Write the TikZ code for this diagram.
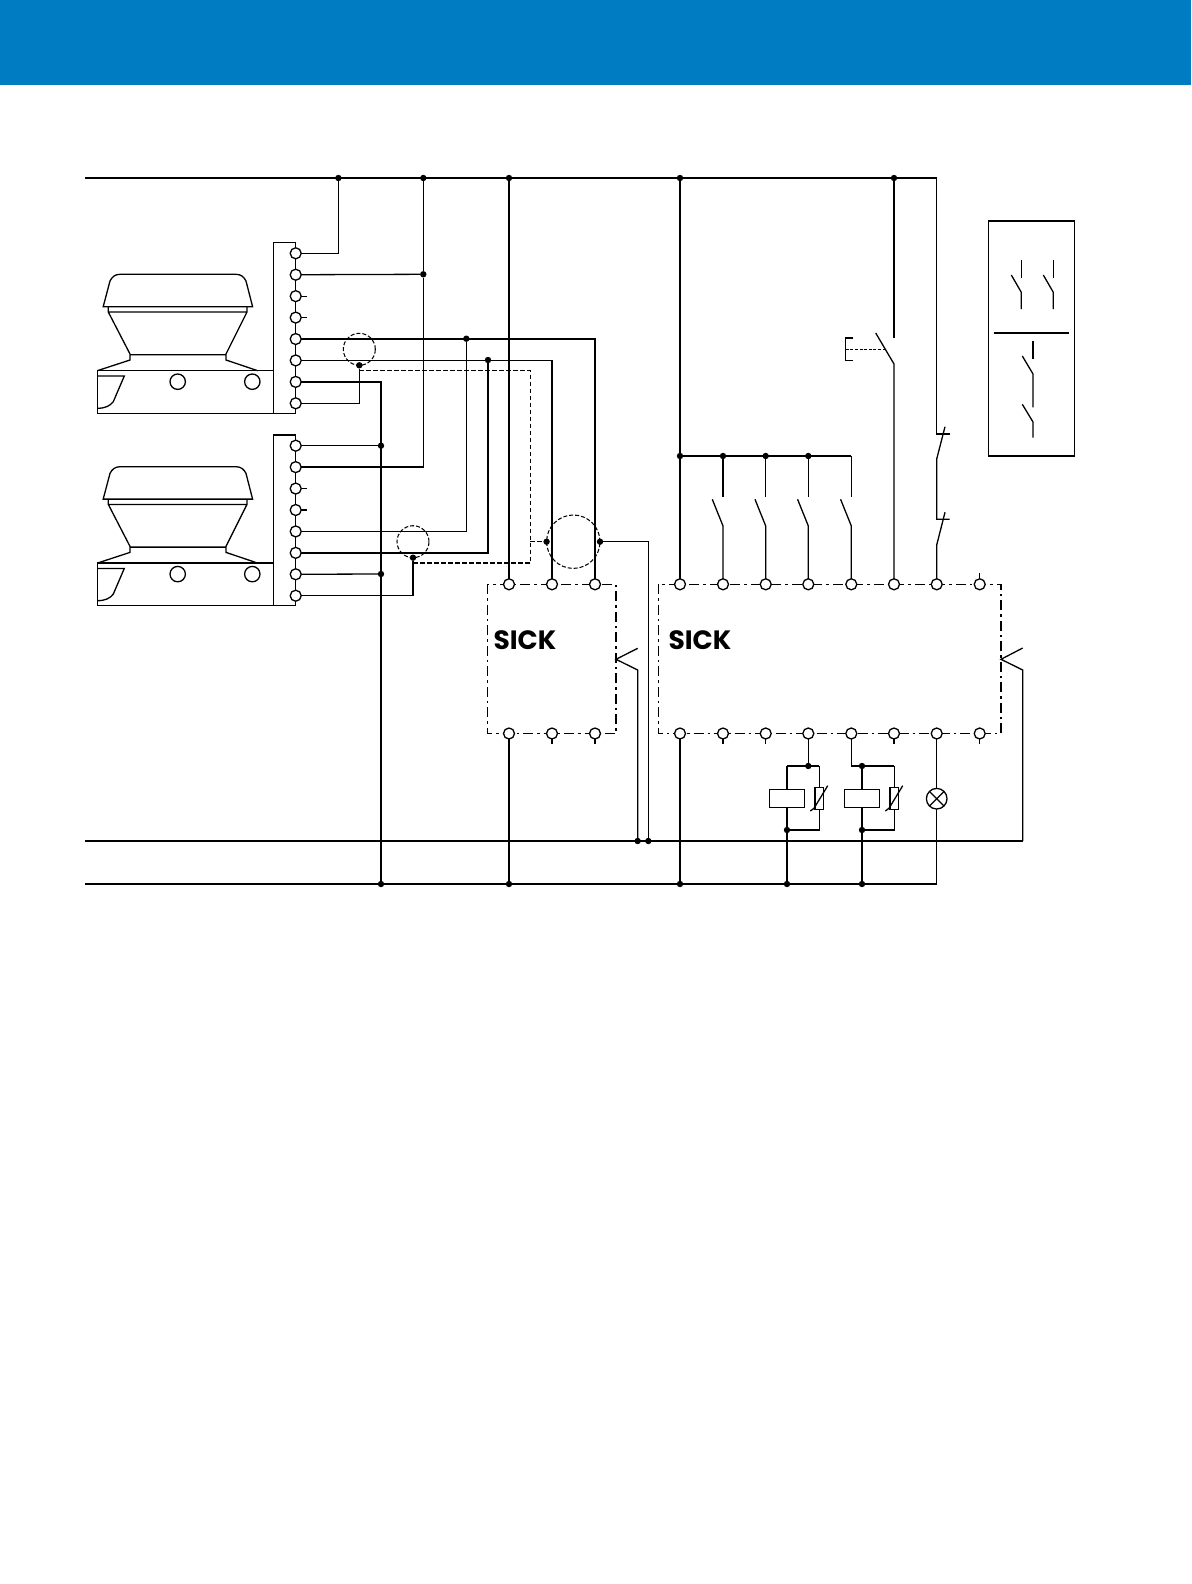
\documentclass[tikz,border=0pt]{standalone}
\usepackage{fontspec}
\newfontfamily\logofont{Poppins}
\usetikzlibrary{calc}
\definecolor{header blue}{RGB}{0,124,194}
\def\scannerHead{(103.2,306.7) -- (110,281) .. controls (112,277) and (115,274.3) .. (120,274.3) -- (236,274.3) .. controls (241,274.3) and (244,277) .. (246,281) -- (252.6,306.7) -- cycle}
\def\scannerNeck{(97.3,370.7) -- (130,360) -- (130,354) -- (108.3,312) -- (108.3,306.7) (108.3,312) -- (247,312) (247,306.7) -- (247,312) -- (226,354) -- (226,360) -- (257.7,370.7) (130,354.7) -- (226,354.7)}
\def\scannerWindow{(97.3,376) -- (124.3,376) -- (113.3,401.7) .. controls (110,406) and (105,408.3) .. (97.3,408.3)}
\tikzset{wire/.style={line width=1.3pt},
    term/.style={circle, draw, fill=white, line width=1.3pt, inner sep=0pt, outer sep=0pt, minimum size=11pt},
    dot/.style={circle, fill=black, inner sep=0pt, outer sep=0pt, minimum size=6.4pt},
    shield/.style={circle, draw, line width=1.05pt, dash pattern=on 4pt off 2pt, inner sep=0pt, outer sep=0pt},
    module/.style={draw, line width=1.2pt, dash pattern=on 10pt off 4pt on 2.5pt off 4pt},
    screen/.style={wire, dash pattern=on 4.5pt off 2.5pt},
    coil/.style={rectangle, draw, line width=1.3pt, inner sep=0pt, outer sep=0pt},
    lampsym/.style={circle, draw, line width=1.3pt, inner sep=0pt, outer sep=0pt, minimum size=20.6pt},
    logo/.style={font=\logofont\bfseries\fontsize{26.5}{27}\selectfont, inner sep=0pt}}
\begin{document}
\begin{tikzpicture}[x=1pt,y=-1pt]
    \useasboundingbox (0,0) rectangle (1191,1584);
    \fill[header blue] (0,0) rectangle (1191,85);

    % scanners
    \foreach \sy/\s in {0/a,192.4/b} {
        \begin{scope}[shift={(0,\sy)}]
            \draw[wire] \scannerHead;
            \draw[wire] \scannerNeck;
            \draw[wire] \scannerWindow;
            \draw[wire] (97.3,370.7) rectangle (273.7,413.3);
            \draw[wire] (273.7,413.3) -- (295.7,413.3);
            \draw[wire] (273.7,370.7) -- (273.7,242.7) -- (295.7,242.7);
            \draw[wire] (295.7,242.7) -- (295.7,413.3);
            \node[circle, draw, line width=1.3pt, inner sep=0pt, minimum size=15.4pt] (\s L) at (177.7,381.7) {};
            \node[circle, draw, line width=1.3pt, inner sep=0pt, minimum size=15.4pt] (\s R) at (252.3,381.7) {};
            \foreach \i in {1,...,8} {
                \node[term] (\s\i) at (295.7,{253.3+21.43*(\i-1)}) {};
            }
            \draw[wire] (\s3.east) -- ++(6,0);
            \draw[wire] (\s4.east) -- ++(6,0);
        \end{scope}
    }

    % modules
    \draw[module] (487.7,584.3) rectangle (616,733.5);
    \draw[module] (658.3,584.3) rectangle (1001,733.5);
    \foreach \i/\px in {1/509,2/552,3/595} {
        \node[term] (c\i) at (\px,584.3) {};
        \node[term] (e\i) at (\px,733.5) {};
    }
    \foreach \i/\px in {1/680,2/723,3/765.7,4/808.3,5/851.3,6/894,7/936.7,8/979.7} {
        \node[term] (f\i) at (\px,584.3) {};
        \node[term] (g\i) at (\px,733.5) {};
    }
    \node[logo] (logoA) at (525,640.5) {SICK};
    \node[logo] (logoB) at (700,640.5) {SICK};
    \draw[wire] (e2.south) -- ++(0,5);
    \draw[wire] (e3.south) -- ++(0,5);
    \foreach \i in {2,3,6,8} {
        \draw[wire] (g\i.south) -- ++(0,5);
    }
    \draw[wire] (f8.north) -- ++(0,-6);

    % rails
    \coordinate (topL) at (85,178);
    \coordinate (topR) at (936.7,178);
    \coordinate (midL) at (85,841);
    \coordinate (midR) at (1022.7,841);
    \coordinate (lowL) at (85,884);
    \coordinate (lowR) at (936.7,884);
    \draw[wire] (topL) -- (topR);
    \draw[wire] (midL) -- (midR);
    \draw[wire] (lowL) -- (lowR);
    \foreach \i/\px in {1/338.4,2/423.3,3/509,4/680,5/894} {
        \node[dot] (r\i) at (\px,178) {};
    }
    \foreach \i/\px in {1/381,2/509,3/680,4/787,5/862} {
        \node[dot] (n\i) at (\px,884) {};
    }
    \node[dot] (m1) at (637.7,841) {};
    \node[dot] (m2) at (648.3,841) {};

    % scanner wiring
    \node[shield, minimum size=32pt] (shA) at (359.3,349.3) {};
    \node[shield, minimum size=32pt] (shB) at (413,541.7) {};
    \node[shield, minimum size=53.4pt] (shC) at (573.3,541.7) {};
    \node[dot] (dA) at (shA.south) {};
    \node[dot] (dB) at (shB.south) {};
    \node[dot] (dL) at (shC.west) {};
    \node[dot] (dR) at (shC.east) {};
    \node[dot] (j2) at (423.3,274.3) {};
    \node[dot] (j5) at (466.3,338.7) {};
    \node[dot] (j6) at (488,360) {};
    \node[dot] (k1) at (381,445.7) {};
    \node[dot] (k7) at (381,574) {};
    \draw[wire] (a1) -| (r1);
    \draw[wire] (a2) -- (j2);
    \draw[wire] (r2) -- (j2);
    \draw[wire] (j2) |- (b2);
    \draw[wire] (a5) -| (c3);
    \draw[wire] (a6) -| (c2);
    \draw[wire] (b5) -| (j5);
    \draw[wire] (b6) -| (j6);
    \draw[wire] (a7) -| (n1);
    \draw[wire] (b1) -- (k1);
    \draw[wire] (b7) -- (k7);
    \draw[wire] (a8) -| (dA);
    \draw[wire] (b8) -| (dB);
    \draw[wire] (r3) -- (c1);
    \coordinate (scrA) at (dA |- 0,370.7);
    \coordinate (scrB) at (dB |- 0,563);
    \coordinate (scrC) at (530.3,370.7);
    \coordinate (scrD) at (530.3,563);
    \coordinate (scrE) at (530.3,541.7);
    \draw[screen] (scrA) -- (scrC) -- (scrD) -- (scrB);
    \draw[screen] (scrE) -- (dL);
    \draw[wire] (dR) -| (m2);

    % module outputs
    \coordinate (chvA) at (616,659.3);
    \coordinate (chvB) at (1001,659.3);
    \draw[wire] (637.7,648.3) -- (chvA) -- (637.7,670) -- (m1);
    \draw[wire] (1022.7,648) -- (chvB) -- (1022.7,670) -- (midR);
    \draw[wire] (e1) -- (n2);
    \draw[wire] (g1) -- (n3);

    % enable contacts
    \draw[wire] (r4) -- (f1);
    \node[dot] (p1) at (680,456) {};
    \foreach \i/\px in {2/723,3/765.7,4/808.3} {
        \node[dot] (p\i) at (\px,456) {};
    }
    \coordinate (p5) at (851.3,456);
    \draw[wire] (p1) -- (p5);
    \foreach \i/\px in {2/723,3/765.7,4/808.3,5/851.3} {
        \coordinate (swT\i) at (\px,497.3);
        \coordinate (swB\i) at (\px,526);
        \draw[wire] (p\i) -- (swT\i);
        \draw[wire] ({\px-10.7},499.3) -- (swB\i) -- (f\i);
    }

    % stop button
    \coordinate (btnT) at (894,338.3);
    \coordinate (btnB) at (894,364);
    \draw[wire] (r5) -- (btnT);
    \draw[wire] (875.7,333) -- (btnB) -- (f6);
    \draw[wire] (852.7,338) -- (845.7,338) -- (845.7,360.3) -- (852.7,360.3);
    \draw[line width=1.05pt, dash pattern=on 3pt off 1.6pt] (845.7,349.3) -- (885,349.3);

    % door contacts
    \coordinate (ncA) at (936.7,434);
    \coordinate (ncB) at (936.7,459);
    \coordinate (ncC) at (936.7,519.3);
    \coordinate (ncD) at (936.7,545);
    \draw[wire] (topR) -- (ncA) -- (949.7,434);
    \draw[wire] (945,426.7) -- (ncB) -- (ncC) -- (949.7,519.3);
    \draw[wire] (945,512.3) -- (ncD) -- (f7);

    % relays
    \foreach \i/\cx/\vx in {1/787/819.3,2/862/894.3} {
        \node[coil, minimum width=34.6pt, minimum height=17.6pt] (coil\i) at (\cx,798.5) {};
        \node[coil, minimum width=8.7pt, minimum height=22pt] (var\i) at (\vx,798.3) {};
        \coordinate (barT\i) at (\vx,766);
        \node[dot] (q\i) at (\cx,830) {};
        \draw[wire] (coil\i) -- (q\i);
        \draw[wire] (var\i) -- (barT\i);
        \draw[wire] (var\i) |- (q\i);
        \draw[wire] ({\vx-9},811) -- ({\vx-5.3},808.3) -- ({\vx+8.4},785.7);
    }
    \draw[wire] (q1) -- (n4);
    \draw[wire] (q2) -- (n5);
    \node[dot] (t1) at (808.3,766) {};
    \node[dot] (t2) at (862,766) {};
    \coordinate (tc) at (787,766);
    \draw[wire] (g4) -- (t1);
    \draw[wire] (tc) -- (barT1);
    \draw[wire] (tc) -- (coil1);
    \draw[wire] (g5) |- (barT2);
    \draw[wire] (t2) -- (coil2);

    % lamp
    \node[lampsym] (lamp) at (936.7,798.7) {};
    \draw[wire] (lamp.45) -- (lamp.225);
    \draw[wire] (lamp.135) -- (lamp.315);
    \draw[wire] (g7) -- (lamp);
    \draw[wire] (lamp) -- (lowR);

    % legend
    \draw[wire] (988.7,221) rectangle (1074.3,456);
    \draw[wire] (993.7,333) -- (1069.3,333);
    \foreach \px in {1021.3,1053.3} {
        \draw[wire] (\px,260) -- (\px,278.3);
        \draw[wire] ({\px-10},275) -- (\px,292.3) -- (\px,309);
    }
    \draw[wire] (1033,341) -- (1033,359.3);
    \draw[wire] (1022.3,356) -- (1033,374) -- (1033,407.3);
    \draw[wire] (1022.3,404.3) -- (1033,422) -- (1033,437.7);
\end{tikzpicture}
\end{document}
